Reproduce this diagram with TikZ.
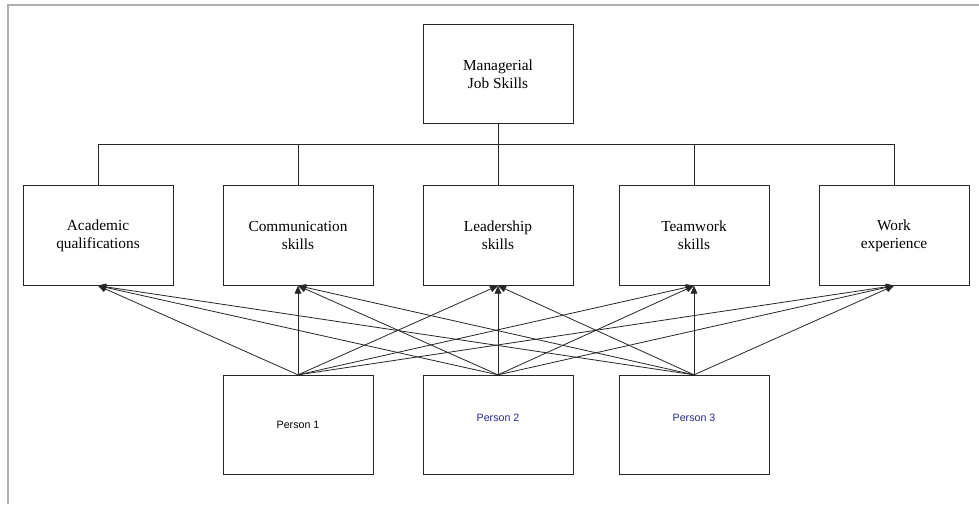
\documentclass[tikz,border=0pt]{standalone}
\usepackage{fontspec}
\setmainfont{Liberation Serif}
\newfontfamily\arialfont{Liberation Sans}
\usetikzlibrary{arrows.meta}

\definecolor{personBlue}{RGB}{40,40,150}
\definecolor{frameGray}{RGB}{175,175,175}

\tikzstyle{skillBox}=[shape=rectangle,draw=black!85,line width=0.75pt,minimum width=112.5pt,minimum height=74.5pt,inner sep=0pt,align=center,font=\fontsize{11.5}{13.5}\selectfont]
\tikzstyle{personBox}=[skillBox,font=\arialfont\fontsize{8}{10}\selectfont]
\tikzstyle{rates}=[-{Triangle[length=6pt,width=5pt]},draw=black!85,line width=0.6pt]

\begin{document}
\begin{tikzpicture}[x=0.75pt,y=-0.75pt]
        \useasboundingbox (0,0) rectangle (979,504);
        \draw[frameGray,line width=1.5pt] (979,5) -- (8,5) -- (8,504);

        % goal
        \node[skillBox] (goal) at (498,74) {Managerial\\Job Skills};

        % criteria
        \node[skillBox] (acad) at (98,235.5)  {Academic\\qualifications};
        \node[skillBox] (comm) at (298,235.5) {Communication\\skills};
        \node[skillBox] (lead) at (498,235.5) {Leadership\\skills};
        \node[skillBox] (team) at (694,235.5) {Teamwork\\skills};
        \node[skillBox] (work) at (894,235.5) {Work\\experience};

        % alternatives
        \node[personBox] (p1) at (298,425) {Person 1};
        \node[personBox,text=personBlue] (p2) at (498,425) {\raisebox{10.5pt}{Person 2}};
        \node[personBox,text=personBlue] (p3) at (694,425) {\raisebox{10.5pt}{Person 3}};

        \draw [black!85,line width=0.6pt] (goal.south) -- ++(0,20) -| (acad.north);
        \draw [black!85,line width=0.6pt] (goal.south) -- ++(0,20) -| (comm.north);
        \draw [black!85,line width=0.6pt] (goal.south) -- (lead.north);
        \draw [black!85,line width=0.6pt] (goal.south) -- ++(0,20) -| (team.north);
        \draw [black!85,line width=0.6pt] (goal.south) -- ++(0,20) -| (work.north);

        \draw [rates] (p1.north) to (acad.south);
        \draw [rates] (p1.north) to (comm.south);
        \draw [rates] (p1.north) to (lead.south);
        \draw [rates] (p1.north) to (team.south);
        \draw [rates] (p1.north) to (work.south);

        \draw [rates] (p2.north) to (acad.south);
        \draw [rates] (p2.north) to (comm.south);
        \draw [rates] (p2.north) to (lead.south);
        \draw [rates] (p2.north) to (team.south);
        \draw [rates] (p2.north) to (work.south);

        \draw [rates] (p3.north) to (acad.south);
        \draw [rates] (p3.north) to (comm.south);
        \draw [rates] (p3.north) to (lead.south);
        \draw [rates] (p3.north) to (team.south);
        \draw [rates] (p3.north) to (work.south);
    \end{tikzpicture}
\end{document}
